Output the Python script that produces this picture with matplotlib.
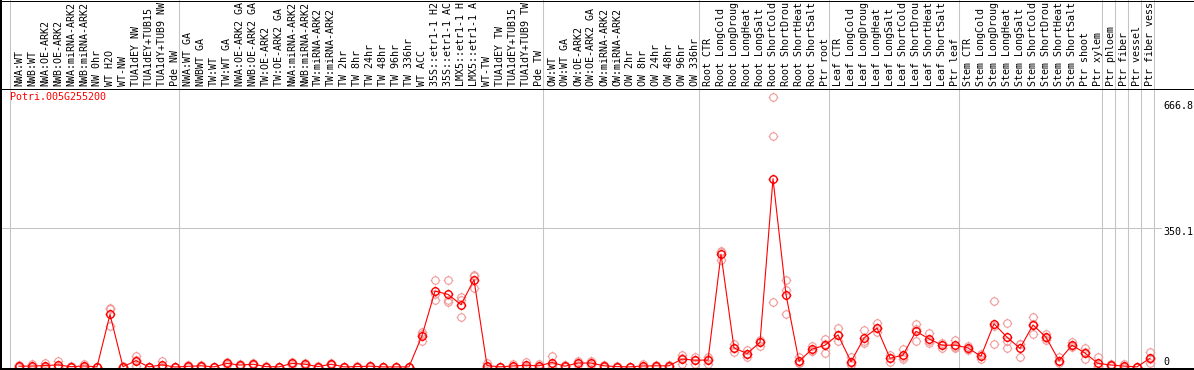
import numpy as np
import matplotlib
matplotlib.use("Agg")
import matplotlib.pyplot as plt
from matplotlib.path import Path
from matplotlib.lines import Line2D
import matplotlib.transforms as mtransforms

# ---------------- data ----------------
gene = "Potri.005G255200"

samples = [
    "NWA:WT", "NWB:WT", "NWA:OE-ARK2", "NWB:OE-ARK2", "NWA:miRNA-ARK2", "NWB:miRNA-ARK2",
    "NW 0hr", "WT H2O", "WT-NW", "TUA1dEY NW", "TUA1dEY+TUB15 NW", "TUA1dY+TUB9 NW", "Pde NW",
    "NWA:WT GA", "NWBWT GA", "TW:WT", "TW:WT GA", "NWA:OE-ARK2 GA", "NWB:OE-ARK2 GA",
    "TW:OE-ARK2", "TW:OE-ARK2 GA", "NWA:miRNA-ARK2", "NWB:miRNA-ARK2", "TW:miRNA-ARK2",
    "TW:miRNA-ARK2", "TW 2hr", "TW 8hr", "TW 24hr", "TW 48hr", "TW 96hr", "TW 336hr",
    "WT ACC", "35S::etr1-1 H2O", "35S::etr1-1 ACC", "LMX5::etr1-1 H2O", "LMX5::etr1-1 ACC",
    "WT-TW", "TUA1dEY TW", "TUA1dEY+TUB15 TW", "TUA1dY+TUB9 TW", "Pde TW",
    "OW:WT", "OW:WT GA", "OW:OE-ARK2", "OW:OE-ARK2 GA", "OW:miRNA-ARK2", "OW:miRNA-ARK2",
    "OW 2hr", "OW 8hr", "OW 24hr", "OW 48hr", "OW 96hr", "OW 336hr",
    "Root CTR", "Root LongCold", "Root LongDrought", "Root LongHeat", "Root LongSalt",
    "Root ShortCold", "Root ShortDrought", "Root ShortHeat", "Root ShortSalt", "Ptr root",
    "Leaf CTR", "Leaf LongCold", "Leaf LongDrought", "Leaf LongHeat", "Leaf LongSalt",
    "Leaf ShortCold", "Leaf ShortDrought", "Leaf ShortHeat", "Leaf ShortSalt", "Ptr leaf",
    "Stem CTR", "Stem LongCold", "Stem LongDrought", "Stem LongHeat", "Stem LongSalt",
    "Stem ShortCold", "Stem ShortDrought", "Stem ShortHeat", "Stem ShortSalt", "Ptr shoot",
    "Ptr xylem", "Ptr phloem", "Ptr fiber", "Ptr vessel", "Ptr fiber vessel",
]

group_sizes = [13, 28, 12, 10, 10, 11, 1, 1, 1, 1]

rep1 = [6, 7, 10, 16, 2, 8, 1, 148, 2, 28, 1, 16, 0,
        4, 6, 1, 12, 8, 10, 2, 1, 12, 11, 2, 10, 1, 2, 3, 1, 1, 1,
        89, 220, 218, 176, 231, 11, 1, 8, 12, 8,
        28, 4, 14, 14, 5, 2, 1, 8, 5, 5, 30, 26,
        24, 293, 58, 43, 68, 679, 220, 24, 54, 71,
        98, 25, 94, 110, 30, 45, 109, 86, 60, 68,
        54, 34, 165, 111, 58, 126, 83, 24, 62, 47,
        25, 7, 7, 1, 37]
rep2 = [0, 0, 1, 0, 0, 0, 0, 145, 0, 18, 0, 0, 0,
        1, 2, 0, 9, 5, 7, 1, 0, 9, 7, 1, 7, 0, 1, 2, 0, 0, 0,
        82, 185, 168, 168, 228, 0, 0, 0, 1, 1,
        6, 2, 10, 10, 3, 1, 0, 0, 3, 3, 22, 18,
        20, 290, 47, 33, 64, 581, 193, 10, 41, 58,
        80, 9, 65, 97, 23, 25, 96, 66, 56, 50,
        46, 27, 104, 65, 57, 109, 74, 15, 52, 38,
        2, 5, 0, 0, 20]
rep3 = [0, 0, 0, 0, 0, 0, 0, 104, 0, 2, 0, 0, 0,
        0, 1, 0, 6, 2, 4, 0, 0, 6, 3, 0, 4, 0, 0, 1, 0, 0, 0,
        66, 168, 163, 127, 200, 0, 0, 0, 0, 0,
        0, 0, 6, 6, 1, 0, 0, 0, 1, 1, 8, 8,
        8, 269, 39, 26, 54, 163, 134, 9, 40, 35,
        65, 6, 60, 87, 13, 20, 65, 61, 49, 47,
        44, 20, 58, 49, 26, 83, 68, 9, 51, 20,
        0, 3, 0, 0, 9]

ytick_values = [0, 350.1, 666.8]

# ---------------- layout ----------------
W, H, DPI = 1194, 370, 100
COL0, COLW = 19, 13          # pixel centre of first column, column pitch
Y0, YS = 367, 0.397          # pixel row of value 0, pixels per unit
LABEL_BOTTOM = 86.5
HEADER_LINE = 88
MAX_CHARS = 14               # the header only has room for this many characters

FONT = "DejaVu Sans Mono"
FS = 7.2

fig = plt.figure(figsize=(W / DPI, H / DPI), dpi=DPI)
ax = fig.add_axes([0, 0, 1, 1])
ax.set_axis_off()
ax.set_xlim((0 - COL0) / COLW, (W - COL0) / COLW)
ax.set_ylim((Y0 - H) / YS, Y0 / YS)

x = np.arange(len(samples))
reps = np.array([rep1, rep2, rep3], dtype=float)
mean = reps.mean(axis=0)

def fx(px):
    return px / W

def fy(py):
    return 1 - py / H

# separators between groups
bounds = np.concatenate([[0], np.cumsum(group_sizes)])
for b in bounds:
    ax.axvline(b - 9 / COLW, color="#c4c4c4", lw=0.75, zorder=1)

# horizontal grid line at middle tick
ax.axhline(ytick_values[1], xmin=0, xmax=1161 / W, color="#c4c4c4", lw=0.75, zorder=1)

# marker: circle with four small ticks
circ = Path.unit_circle()
t = 1.3
tv = [(0, 1), (0, t), (0, -1), (0, -t), (1, 0), (t, 0), (-1, 0), (-t, 0)]
tc = [Path.MOVETO, Path.LINETO] * 4
ticks = Path(tv, tc)
mk = Path.make_compound_path(circ, ticks)

for r in reps:
    ax.plot(x, r, ls="none", marker=mk, ms=7.0, mfc="none", mec="#f09a9a",
            mew=0.8, zorder=2, clip_on=False)
ax.plot(x, mean, "-", color="#ff0000", lw=0.8, zorder=3)
ax.plot(x, mean, ls="none", marker=mk, ms=7.0, mfc="none", mec="#ff0000",
        mew=1.0, zorder=4, clip_on=False)

# sample labels (rotated; only as many characters as the header holds)
tr = mtransforms.blended_transform_factory(ax.transData, fig.transFigure)
for i, s in enumerate(samples):
    ax.text(i, fy(LABEL_BOTTOM), s[:MAX_CHARS], transform=tr, rotation=90,
            ha="center", va="bottom", fontsize=FS, family=FONT, color="black")

# title
fig.text(fx(10), fy(97.5), gene, color="#ff0000", ha="left", va="center",
         fontsize=FS, family=FONT)

# y labels on the right
for v in ytick_values:
    ypix = Y0 - v * YS + 4
    ypix = min(ypix, 361.7)
    fig.text(fx(1163), fy(ypix), f"{v:g}", ha="left", va="center",
             fontsize=FS, family=FONT, color="black")

# frame and header line
def fline(x0, y0, x1, y1, lw=1.0, color="black"):
    fig.add_artist(Line2D([fx(x0), fx(x1)], [fy(y0), fy(y1)], lw=lw * 72 / DPI,
                          color=color, solid_capstyle="butt"))

fline(0, HEADER_LINE + 0.5, W, HEADER_LINE + 0.5)
fline(1.0, 0, 1.0, H, lw=2)
fline(W - 0.5, 0, W - 0.5, H)
fline(0, 0.5, W, 0.5)
fline(0, H - 1.0, W, H - 1.0, lw=2)

fig.savefig("out.png", dpi=DPI)
